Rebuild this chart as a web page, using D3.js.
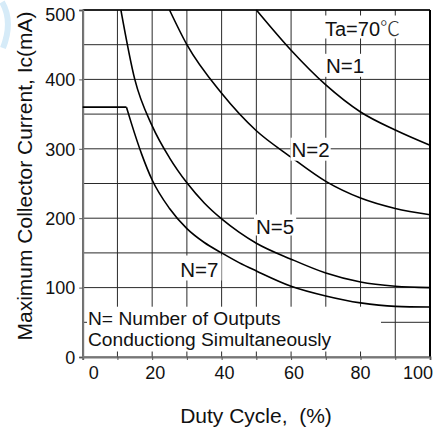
<!DOCTYPE html>
<html><head><meta charset="utf-8">
<script src="https://cdn.jsdelivr.net/npm/d3@7"></script>
<style>
html,body{margin:0;padding:0;background:#fff;}
text{font-family:"Liberation Sans",Arial,"Noto Sans CJK SC",sans-serif;fill:#111;}
</style></head>
<body>
<svg id="chart" width="436" height="432"></svg>
<script>
// ---- data ----
const dutyTicks = [0, 20, 40, 60, 80, 100];
const currentTicks = [0, 100, 200, 300, 400, 500];
const dutyGrid = [0,10,20,30,40,50,60,70,80,90,100];
const currentGrid = [0,50,100,150,200,250,300,350,400,450,500];

const n1Duty = [50, 60, 70, 80, 90, 100];
const n1Current = [500, 442, 392, 353, 327, 305];

const n2Duty = [25, 30, 40, 50, 60, 70, 80, 90, 100];
const n2Current = [500, 450, 380, 326, 288, 253, 229, 214, 205];

const n5Duty = [11, 15, 20, 25, 30, 35, 40, 45, 50, 60, 70, 80, 90, 100];
const n5Current = [500, 400, 333, 287, 251, 222, 199, 180, 164, 141, 121, 108, 102, 100];

const n7FlatDuty = [0, 12.6];
const n7FlatCurrent = [360, 360];
const n7Duty = [12.6, 14, 17, 20, 25, 30, 35, 40, 45, 50, 60, 70, 80, 90, 100];
const n7Current = [360, 337, 292, 255, 214, 185, 165, 150, 136, 124, 102, 88, 78, 73, 72];

const curveLabels = ["N=1", "N=2", "N=5", "N=7"];
const tempLabel = "Ta=70";
const tempUnit = "\u2103";
const legendLines = ["N= Number of Outputs", "Conductiong Simultaneously"];
const xTitle = "Duty Cycle,  (%)";
const yTitle = "Maximum Collector Current, Ic(mA)";

// ---- layout ----
const svg = d3.select("#chart");
const L = 82.7, R = 430, T = 10, B = 357;
const x = d3.scaleLinear().domain([0, 100]).range([L, R]);
const y = d3.scaleLinear().domain([0, 500]).range([B, T]);

// faint watermark at top-left
svg.append("path")
  .attr("d", "M2,2 C9,14 10,30 3,48")
  .attr("fill", "none").attr("stroke", "#d6ebf8").attr("stroke-width", 6);

// grid
const g = svg.append("g");
g.selectAll(".vg").data(dutyGrid).join("line")
  .attr("x1", d => x(d)).attr("x2", d => x(d))
  .attr("y1", T).attr("y2", B)
  .attr("stroke", "#2a2a2a").attr("stroke-width", 1);
g.selectAll(".hg").data(currentGrid).join("line")
  .attr("x1", L).attr("x2", R)
  .attr("y1", d => y(d)).attr("y2", d => y(d))
  .attr("stroke", "#2a2a2a").attr("stroke-width", 1);

// legend white box
svg.append("rect")
  .attr("x", 87).attr("y", 306.7).attr("width", 381 - 87).attr("height", 351.5 - 306.7)
  .attr("fill", "#fff");

// frame
svg.append("line").attr("x1", L).attr("x2", R).attr("y1", T).attr("y2", T)
  .attr("stroke", "#000").attr("stroke-width", 1.6);
svg.append("line").attr("x1", R).attr("x2", R).attr("y1", T).attr("y2", B)
  .attr("stroke", "#000").attr("stroke-width", 2);

// axes
const xAxis = d3.axisBottom(x).tickValues(dutyGrid).tickSize(3)
  .tickFormat(d => dutyTicks.includes(d) ? d : "");
const xa = svg.append("g").attr("transform", `translate(0,${B})`).call(xAxis);
xa.select(".domain").attr("stroke", "#777").attr("stroke-width", 2);
xa.selectAll(".tick line").attr("stroke", "#555");
xa.selectAll(".tick text")
  .attr("font-size", 18).attr("fill", "#111")
  .attr("font-family", "Liberation Sans, Arial, sans-serif")
  .attr("y", 0).attr("dy", 0)
  .attr("transform", "translate(0,22.3)")
  .attr("text-anchor", d => d === 0 ? "start" : d === 100 ? "end" : "middle")
  .attr("dx", d => d === 0 ? 5.5 : d === 100 ? 2.5 : (d === 80 ? -0.5 : 2.5));

const yAxis = d3.axisLeft(y).tickValues(currentTicks).tickSize(3.5).tickPadding(4);
const ya = svg.append("g").attr("transform", `translate(${L},0)`).call(yAxis);
ya.select(".domain").attr("stroke", "#777").attr("stroke-width", 2);
ya.selectAll(".tick line").attr("stroke", "#555");
ya.selectAll(".tick text")
  .attr("font-size", 18).attr("fill", "#111")
  .attr("font-family", "Liberation Sans, Arial, sans-serif")
  .attr("dy", d => d === 500 ? "0.6em" : "0.35em");

// curves
const line = d3.line().x(d => x(d[0])).y(d => y(d[1])).curve(d3.curveMonotoneX);
const lineStraight = d3.line().x(d => x(d[0])).y(d => y(d[1]));
const series = [
  [n1Duty, n1Current], [n2Duty, n2Current], [n5Duty, n5Current], [n7Duty, n7Current]
];
series.forEach(([xs, ys]) => {
  svg.append("path").datum(xs.map((v, i) => [v, ys[i]]))
    .attr("d", line).attr("fill", "none").attr("stroke", "#000").attr("stroke-width", 1.6);
});
svg.append("path").datum(n7FlatDuty.map((v, i) => [v, n7FlatCurrent[i]]))
  .attr("d", lineStraight).attr("fill", "none").attr("stroke", "#000").attr("stroke-width", 1.6);

// labels with white backgrounds
function label(txt, lx, by, size, pad, unit) {
  const grp = svg.append("g");
  const t = grp.append("text").attr("x", lx).attr("y", by)
    .attr("font-size", size).text(txt);
  if (unit) {
    t.append("tspan").attr("font-family", "Noto Sans CJK SC")
      .attr("font-weight", 300).attr("fill", "#333").text(unit);
  }
  const bb = t.node().getBBox();
  grp.insert("rect", "text")
    .attr("x", bb.x - pad[0]).attr("y", bb.y - pad[1])
    .attr("width", bb.width + 2 * pad[0]).attr("height", bb.height + pad[1] + pad[2])
    .attr("fill", "#fff");
  return t;
}
label(tempLabel, 325, 35.5, 20, [1.5, -3, -3], tempUnit);
label(curveLabels[0], 326, 72.8, 20.5, [2, 0, 0]);
label(curveLabels[1], 291.5, 156.7, 20.5, [1, 0, 0]);
label(curveLabels[2], 256, 233.5, 20.5, [2, 0, -2]);
label(curveLabels[3], 180.3, 276.5, 20.5, [3, 2, 0]);

// legend text
legendLines.forEach((s, i) => {
  svg.append("text").attr("x", 88).attr("y", 325 + i * 21)
    .attr("font-size", 19.2).text(s);
});

// axis titles
svg.append("text").attr("x", 256).attr("y", 423.3)
  .attr("text-anchor", "middle").attr("font-size", 21)
  .style("white-space", "pre").text(xTitle);
svg.append("text")
  .attr("transform", "translate(31.5,176) rotate(-90)")
  .attr("text-anchor", "middle").attr("font-size", 21).text(yTitle);
</script>
</body></html>
